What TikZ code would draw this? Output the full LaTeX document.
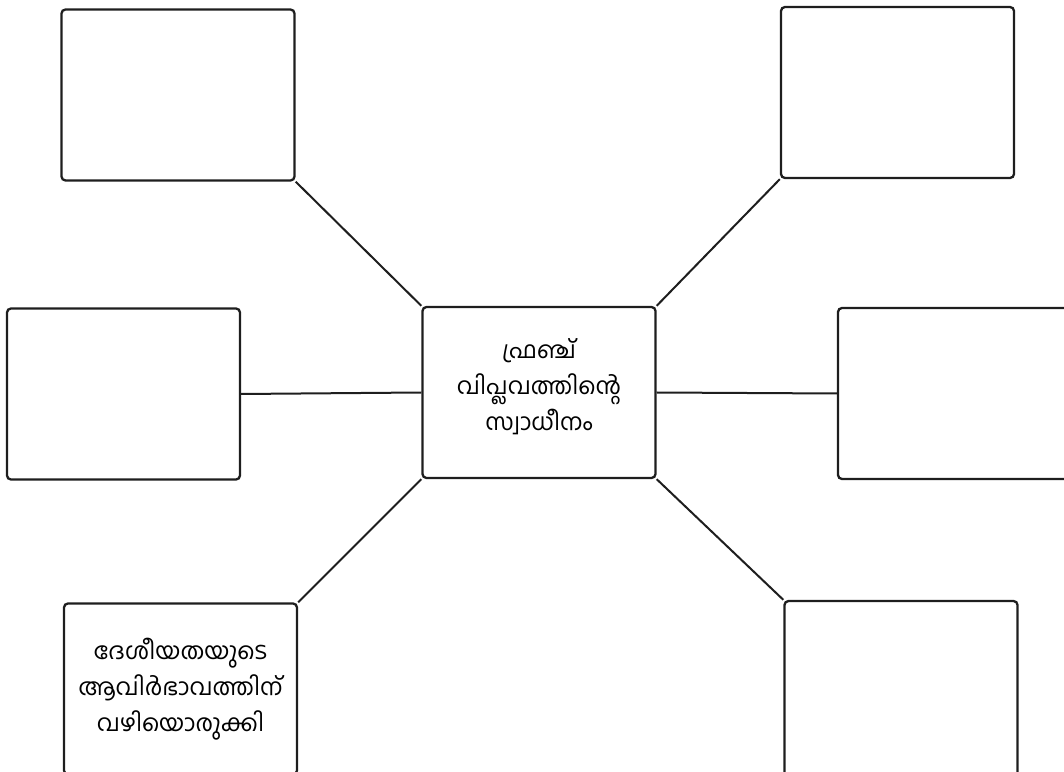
\documentclass[tikz,border=0pt]{standalone}
\usepackage{fontspec}
\newfontfamily\mlfont[Script=Malayalam]{Hind Kochi}
\definecolor{ink}{HTML}{1E1E1E}
\begin{document}
\begin{tikzpicture}[x=1pt,y=1pt,
  box/.style={draw=ink,line width=2.3pt,rounded corners=4pt,minimum width=233pt,minimum height=171pt,inner sep=0pt,align=center,font=\mlfont\fontsize{23.5}{36}\selectfont},
  link/.style={draw=ink,line width=2pt}]
\useasboundingbox (0,0) rectangle (1064,771);
\clip (0,0) rectangle (1064,771);
\node[box,text depth=16pt] (c) at (539,378.5) {ഫ്രഞ്ച്\\വിപ്ലവത്തിന്റെ\\സ്വാധീനം};
\node[box] (tl) at (178,676) {};
\node[box] (tr) at (897.5,678.5) {};
\node[box] (ml) at (123.5,377) {};
\node[box] (mr) at (954.5,377.5) {};
\node[box] (bl) at (180.5,82) {ദേശീയതയുടെ\\ആവിർഭാവത്തിന്\\വഴിയൊരുക്കി};
\node[box,minimum height=176pt] (br) at (901,82) {};
\draw[link] (tl.south east) -- (c.north west);
\draw[link] (tr.south west) -- (c.north east);
\draw[link] (ml.east) -- (c.west);
\draw[link] (mr.west) -- (c.east);
\draw[link] (bl.north east) -- (c.south west);
\draw[link] (br.north west) -- (c.south east);
\end{tikzpicture}
\end{document}
